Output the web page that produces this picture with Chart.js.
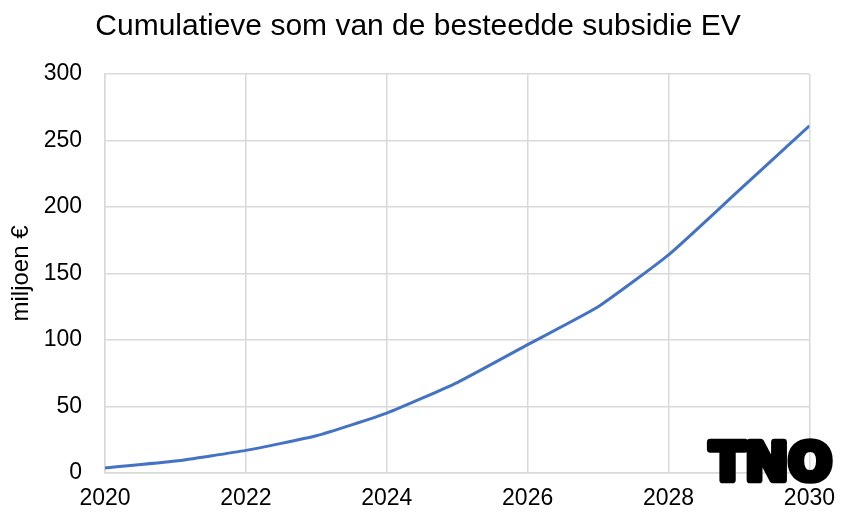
<!DOCTYPE html>
<html>
<head>
<meta charset="utf-8">
<script src="https://cdn.jsdelivr.net/npm/chart.js@4/dist/chart.umd.min.js"></script>
<style>
  html, body { margin: 0; padding: 0; background: #fff; }
  #wrap { width: 847px; height: 515px; }
</style>
</head>
<body>
<div id="wrap"><canvas id="grafiek"></canvas></div>
<script>
// jaren en cumulatieve subsidie (miljoen euro)
const jaren = [2020, 2021, 2022, 2023, 2024, 2025, 2026, 2027, 2028, 2029, 2030];
const cumulatief = [3.8, 9, 17, 28, 45, 68, 96.5, 125, 164, 212.5, 261];
const titel = 'Cumulatieve som van de besteedde subsidie EV';
const yTitel = 'miljoen €';

const FONT = "'Liberation Sans', Arial, sans-serif";

// TNO-logo rechtsonder, als tekst getekend
const tnoLogo = {
    id: 'tnoLogo',
    afterDraw(chart) {
        const ctx = chart.ctx;
        ctx.save();
        ctx.font = "bold 46px 'DejaVu Sans'";
        ctx.fillStyle = '#000';
        ctx.strokeStyle = '#000';
        ctx.lineWidth = 6;
        ctx.lineJoin = 'round';
        ctx.textBaseline = 'alphabetic';
        const w = ctx.measureText('TNO').width;
        const doelB = 122;
        ctx.translate(710, 480);
        ctx.scale(doelB / w, 1.12);
        ctx.strokeText('TNO', 0, 0);
        ctx.fillText('TNO', 0, 0);
        ctx.restore();
    }
};

const punten = jaren.map((j, i) => ({ x: j, y: cumulatief[i] }));

new Chart(document.getElementById('grafiek'), {
    type: 'line',
    data: {
        datasets: [{
            data: punten,
            borderColor: '#4472C4',
            borderWidth: 3,
            pointRadius: 0,
            tension: 0.15,
            fill: false
        }]
    },
    options: {
        responsive: true,
        maintainAspectRatio: false,
        animation: false,
        layout: { padding: { left: 3, right: 14, top: 0, bottom: 3 } },
        plugins: {
            legend: { display: false },
            tooltip: { enabled: false },
            title: {
                display: true,
                text: titel,
                color: '#000',
                font: { family: FONT, size: 30, weight: 'normal' },
                padding: { top: 9, bottom: 29 }
            }
        },
        scales: {
            x: {
                type: 'linear',
                min: 2020,
                max: 2030,
                afterFit: s => { s.height = 39; },
                ticks: {
                    stepSize: 2,
                    color: '#000',
                    font: { family: FONT, size: 23 },
                    padding: 12,
                    maxRotation: 0,
                    callback: v => String(v)
                },
                grid: { color: '#d9d9d9', lineWidth: 1.5, drawTicks: false },
                border: { color: '#d9d9d9', width: 1.5 }
            },
            y: {
                min: 0,
                max: 300,
                afterFit: s => { s.width = 102; },
                ticks: {
                    stepSize: 50,
                    color: '#000',
                    font: { family: FONT, size: 23 },
                    padding: 23
                },
                grid: { color: '#d9d9d9', lineWidth: 1.5, drawTicks: false },
                border: { color: '#d9d9d9', width: 1.5 },
                title: {
                    display: true,
                    text: yTitel,
                    color: '#000',
                    font: { family: FONT, size: 24 },
                    padding: { top: 4, bottom: 4 }
                }
            }
        }
    },
    plugins: [tnoLogo]
});
</script>
</body>
</html>
